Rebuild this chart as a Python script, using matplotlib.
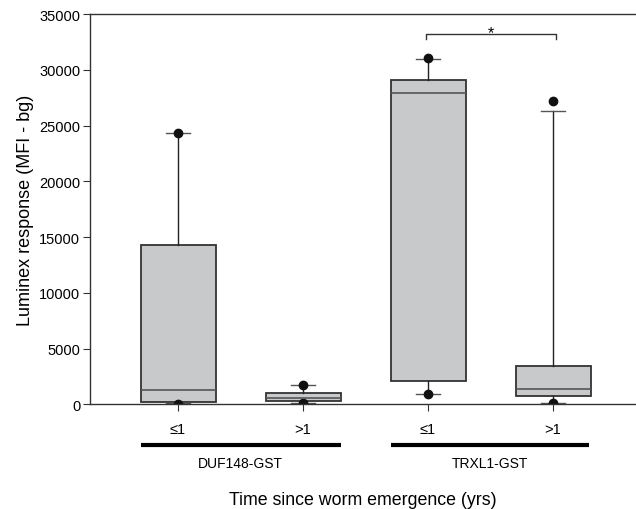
import matplotlib
matplotlib.use("Agg")
import matplotlib.pyplot as plt
import matplotlib.transforms as mtransforms

plt.rcParams['font.family'] = ['Liberation Sans', 'DejaVu Sans']

# Data
tick_labels = ["≤1", ">1", "≤1", ">1"]
groups = ["DUF148-GST", "TRXL1-GST"]
q1 = [180, 270, 2060, 770]
med = [1250, 590, 27950, 1400]
q3 = [14300, 990, 29100, 3460]
whislo = [140, 140, 920, 140]
whishi = [24300, 1700, 30970, 26300]
fliers = [[70, 24300], [160, 1760], [920, 31060], [140, 27230]]
sig_y = [32730, 33250]

positions = [1, 2, 3, 4]

fig = plt.figure(figsize=(6.36, 5.10), dpi=100)
ax = fig.add_axes([90/636, (510-405.3)/510, 546/636, 390.3/510])

stats = []
for i in range(4):
    stats.append(dict(q1=q1[i], med=med[i], q3=q3[i], whislo=whislo[i],
                      whishi=whishi[i], fliers=fliers[i]))

ax.bxp(stats, positions=positions, widths=0.6, patch_artist=True,
       showfliers=True, capwidths=0.19,
       boxprops=dict(facecolor='#c8c9cb', edgecolor='#333333', linewidth=1.3),
       medianprops=dict(color='#555555', linewidth=1.2),
       whiskerprops=dict(color='#222222', linewidth=1.0),
       capprops=dict(color='#555555', linewidth=1.0),
       flierprops=dict(marker='o', markerfacecolor='#111111', markeredgecolor='#111111',
                       markersize=6))

ax.set_xlim(0.296, 4.664)
ax.set_ylim(0, 35000)
ax.set_yticks(range(0, 35001, 5000))
ax.set_xticks(positions)
ax.set_xticklabels(tick_labels, fontsize=10.5)
ax.tick_params(axis='y', labelsize=10.5, length=5, pad=2, color='#333333')
ax.tick_params(axis='x', length=5, pad=8, color='#333333')
ax.spines['right'].set_visible(False)
for s in ['left', 'bottom', 'top']:
    ax.spines[s].set_color('#333333')
    ax.spines[s].set_linewidth(1.0)

ax.set_ylabel("Luminex response (MFI - bg)", fontsize=13, labelpad=4)

# Significance bracket
ax.plot([2.984, 2.984, 4.024, 4.024], [sig_y[0], sig_y[1], sig_y[1], sig_y[0]],
        color='#333333', linewidth=1.0)
ax.text(3.504, 32950, "*", ha='center', va='baseline', fontsize=11.5)

# Group lines and labels
trans = mtransforms.blended_transform_factory(ax.transData, ax.transAxes)
group_spans = [(0.7, 2.3), (2.7, 4.29)]
for (x0, x1), g in zip(group_spans, groups):
    ax.plot([x0, x1], [-0.104, -0.104], color='black', linewidth=3,
            transform=trans, clip_on=False, solid_capstyle='butt')
    ax.text((x0 + x1) / 2, -0.150, g, transform=trans, ha='center', va='center',
            fontsize=10)

ax.text(0.5, -0.243, "Time since worm emergence (yrs)", transform=ax.transAxes,
        ha='center', va='center', fontsize=12.8)

fig.savefig("out.png", dpi=100)
